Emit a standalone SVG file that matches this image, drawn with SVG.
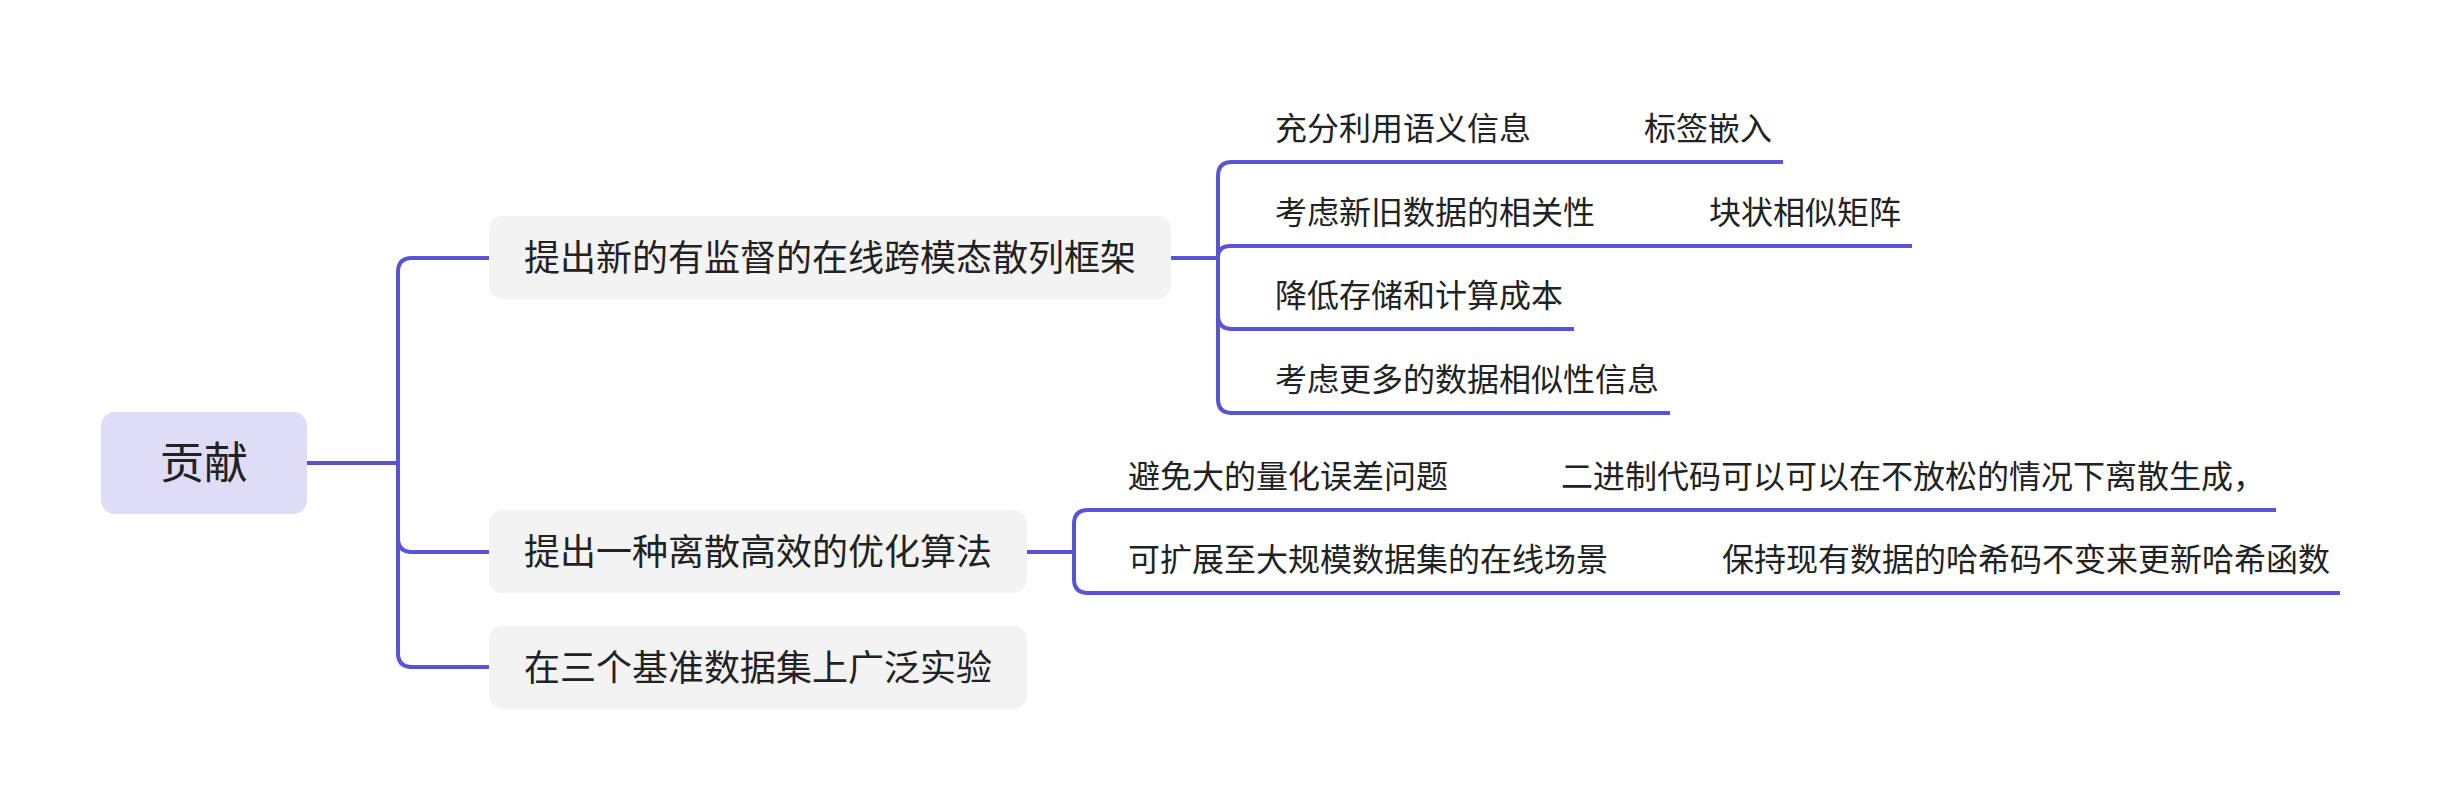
<svg xmlns="http://www.w3.org/2000/svg" width="2440" height="810" viewBox="0 0 2440 810">
<style>
.bg{fill:#ffffff}
.root{fill:#dedcf6}
.box{fill:#f3f3f3}
.t{font-family:"Noto Sans CJK SC","Noto Sans",sans-serif;fill:#222222}
.t0{font-size:44px}
.t1{font-size:36px}
.t2{font-size:32px}
.c{fill:none;stroke:#5a54d5;stroke-width:4;stroke-linejoin:round;stroke-linecap:butt}
</style>
<rect class="bg" x="0" y="0" width="2440" height="810"/>
<g id="connectors">
<path class="c" d="M307,463 H398 V272 Q398,258 412,258 H489"/>
<path class="c" d="M307,463 H398 V538 Q398,552 412,552 H489"/>
<path class="c" d="M307,463 H398 V653 Q398,667 412,667 H489"/>
<path class="c" d="M1171,258 H1218 V176 Q1218,162 1232,162 H1783"/>
<path class="c" d="M1171,258 H1218 Q1218,246 1230,246 H1912"/>
<path class="c" d="M1171,258 H1218 V315 Q1218,329 1232,329 H1574"/>
<path class="c" d="M1171,258 H1218 V399 Q1218,413 1232,413 H1670"/>
<path class="c" d="M1027,552 H1074 V524 Q1074,510 1088,510 H2276"/>
<path class="c" d="M1027,552 H1074 V579 Q1074,593 1088,593 H2340"/>
</g>
<g id="root">
<rect class="root" x="101" y="412" width="206" height="102" rx="14"/>
<text class="t t0" x="204" y="479" text-anchor="middle">贡献</text>
</g>
<g id="n1">
<rect class="box" x="489" y="216" width="682" height="83" rx="14"/>
<text class="t t1" x="830" y="271" text-anchor="middle">提出新的有监督的在线跨模态散列框架</text>
</g>
<g id="n2">
<rect class="box" x="489" y="510" width="538" height="83" rx="14"/>
<text class="t t1" x="758" y="565" text-anchor="middle">提出一种离散高效的优化算法</text>
</g>
<g id="n3">
<rect class="box" x="489" y="626" width="538" height="83" rx="14"/>
<text class="t t1" x="758" y="681" text-anchor="middle">在三个基准数据集上广泛实验</text>
</g>
<g id="n1a"><text class="t t2" x="1275" y="140">充分利用语义信息</text></g>
<g id="n1a1"><text class="t t2" x="1644" y="140">标签嵌入</text></g>
<g id="n1b"><text class="t t2" x="1275" y="224">考虑新旧数据的相关性</text></g>
<g id="n1b1"><text class="t t2" x="1709" y="224">块状相似矩阵</text></g>
<g id="n1c"><text class="t t2" x="1275" y="307">降低存储和计算成本</text></g>
<g id="n1d"><text class="t t2" x="1275" y="391">考虑更多的数据相似性信息</text></g>
<g id="n2a"><text class="t t2" x="1128" y="488">避免大的量化误差问题</text></g>
<g id="n2a1"><text class="t t2" x="1561" y="488">二进制代码可以可以在不放松的情况下离散生成，</text></g>
<g id="n2b"><text class="t t2" x="1128" y="571">可扩展至大规模数据集的在线场景</text></g>
<g id="n2b1"><text class="t t2" x="1722" y="571">保持现有数据的哈希码不变来更新哈希函数</text></g>
</svg>
